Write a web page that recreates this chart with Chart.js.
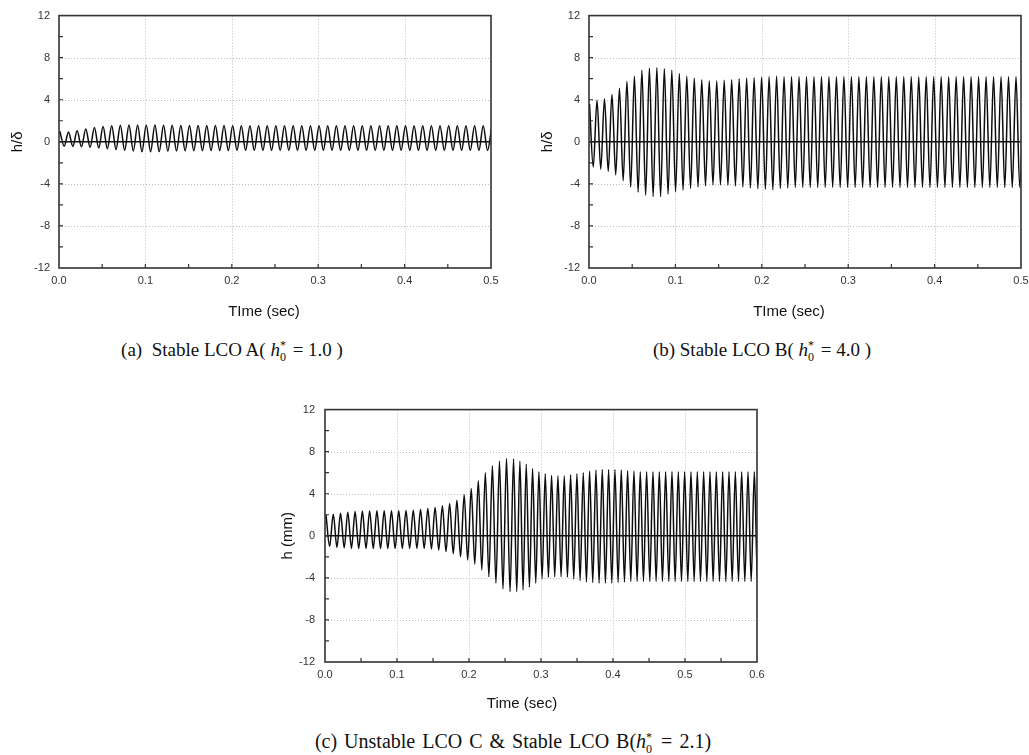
<!DOCTYPE html>
<html><head><meta charset="utf-8">
<script src="https://cdn.jsdelivr.net/npm/chart.js@4.4.1/dist/chart.umd.min.js"></script>
<style>
html,body{margin:0;padding:0;background:#fff;width:1029px;height:755px;overflow:hidden;position:relative}
canvas{position:absolute}
.cap{position:absolute;width:500px;text-align:center;font-family:"Liberation Serif","Times New Roman",serif;font-size:19px;line-height:22px;color:#111;white-space:nowrap}
.capc{font-size:20px;word-spacing:2px}
.h{font-style:italic}
.ss{display:inline-block;position:relative;width:8px;height:11px}
.ss .up{position:absolute;left:0;top:-6px;font-size:12px;line-height:12px}
.ss .dn{position:absolute;left:0;top:6px;font-size:12px;line-height:12px}
</style></head>
<body>
<canvas id="ca" style="left:0;top:0"></canvas>
<canvas id="cb" style="left:530px;top:0"></canvas>
<canvas id="cc" style="left:266px;top:393px"></canvas>
<div class="cap" style="left:-18px;top:339px">(a)&nbsp; Stable LCO A( <span class="h">h</span><span class="ss"><span class="up">*</span><span class="dn">0</span></span> = 1.0 )</div>
<div class="cap" style="left:512px;top:339px">(b) Stable LCO B( <span class="h">h</span><span class="ss"><span class="up">*</span><span class="dn">0</span></span> = 4.0 )</div>
<div class="cap capc" style="left:263px;top:730px">(c) Unstable LCO C &amp; Stable LCO B(<span class="h">h</span><span class="ss"><span class="up">*</span><span class="dn">0</span></span> = 2.1)</div>
<script>
// ---------- data ----------
const yTicks = [-12, -8, -4, 0, 4, 8, 12];
const xTicksAB = [0, 0.1, 0.2, 0.3, 0.4, 0.5];
const xTicksC = [0, 0.1, 0.2, 0.3, 0.4, 0.5, 0.6];

// (a) peaks / troughs of each cycle, h/delta
const aStart = 0.001, aPeriod = 0.01;
const aPeaks = [1.0, 0.93, 1.05, 1.22, 1.35, 1.45, 1.53, 1.58, 1.6, 1.6,
  1.6, 1.59, 1.58, 1.57, 1.56, 1.55, 1.55, 1.54, 1.54, 1.54,
  1.53, 1.53, 1.53, 1.53, 1.53, 1.53, 1.53, 1.53, 1.53, 1.53,
  1.53, 1.53, 1.53, 1.53, 1.53, 1.53, 1.53, 1.53, 1.53, 1.53,
  1.53, 1.53, 1.53, 1.53, 1.53, 1.53, 1.53, 1.53, 1.53, 1.53, 1.53];
const aTroughs = [-0.42, -0.44, -0.48, -0.53, -0.6, -0.67, -0.74, -0.82, -0.88, -0.94,
  -0.95, -0.93, -0.9, -0.88, -0.86, -0.85, -0.84, -0.83, -0.83, -0.83,
  -0.82, -0.82, -0.82, -0.82, -0.82, -0.82, -0.82, -0.82, -0.82, -0.82,
  -0.82, -0.82, -0.82, -0.82, -0.82, -0.82, -0.82, -0.82, -0.82, -0.82,
  -0.82, -0.82, -0.82, -0.82, -0.82, -0.82, -0.82, -0.82, -0.82, -0.82];

// (b)
const bStart = 0.0006, bPeriod = 0.00866;
const bPeaks = [3.6, 3.95, 4.1, 4.5, 5.1, 5.75, 6.25, 6.8, 7.0, 7.05,
  6.95, 6.8, 6.5, 6.25, 6.05, 5.9, 5.8, 5.8, 5.85, 5.9,
  6.0, 6.05, 6.1, 6.15, 6.2, 6.25, 6.2, 6.2, 6.2, 6.2,
  6.2, 6.2, 6.2, 6.2, 6.2, 6.2, 6.2, 6.2, 6.2, 6.2,
  6.2, 6.2, 6.2, 6.2, 6.2, 6.2, 6.2, 6.2, 6.2, 6.2,
  6.2, 6.2, 6.2, 6.2, 6.2, 6.2, 6.2, 6.2, 6.2];
const bTroughs = [-2.4, -2.6, -2.8, -3.15, -3.7, -4.3, -4.8, -5.07, -5.2, -5.2,
  -4.97, -4.75, -4.6, -4.45, -4.3, -4.2, -4.1, -4.1, -4.15, -4.2,
  -4.3, -4.4, -4.45, -4.5, -4.55, -4.45, -4.4, -4.35, -4.35, -4.35,
  -4.35, -4.35, -4.35, -4.35, -4.35, -4.35, -4.35, -4.35, -4.35, -4.35,
  -4.35, -4.35, -4.35, -4.35, -4.35, -4.35, -4.35, -4.35, -4.35, -4.35,
  -4.35, -4.35, -4.35, -4.35, -4.35, -4.35, -4.35, -4.35];

// (c) h (mm); period changes from ~0.0101 s to ~0.0088 s
const cStart = 0.0014;
const cPeriods = [0.0101, 0.0098, 0.0088];
const cBreaks = [19, 26];
const cPeaks = [2.0, 2.05, 2.15, 2.25, 2.3, 2.35, 2.37, 2.38, 2.38, 2.38,
  2.38, 2.4, 2.44, 2.5, 2.6, 2.7, 2.85, 3.06, 3.37, 3.9,
  4.5, 5.25, 6.0, 6.66, 7.1, 7.34, 7.3, 7.1, 6.8, 6.4,
  6.1, 5.9, 5.75, 5.7, 5.7, 5.8, 5.9, 6.0, 6.15, 6.25,
  6.3, 6.3, 6.3, 6.25, 6.2, 6.15, 6.1, 6.1, 6.1, 6.1,
  6.1, 6.1, 6.1, 6.1, 6.1, 6.1, 6.1, 6.1, 6.1, 6.1,
  6.1, 6.1, 6.1, 6.1, 6.1, 6.1];
const cTroughs = [-1.0, -1.1, -1.15, -1.2, -1.2, -1.2, -1.2, -1.2, -1.2, -1.2,
  -1.2, -1.2, -1.2, -1.2, -1.25, -1.35, -1.5, -1.7, -2.0, -2.3,
  -2.7, -3.25, -3.9, -4.5, -5.05, -5.3, -5.3, -5.15, -4.9, -4.5,
  -4.1, -3.95, -3.9, -3.9, -3.95, -4.1, -4.25, -4.4, -4.45, -4.5,
  -4.5, -4.5, -4.45, -4.4, -4.35, -4.35, -4.35, -4.35, -4.35, -4.35,
  -4.35, -4.35, -4.35, -4.35, -4.35, -4.35, -4.35, -4.35, -4.35, -4.35,
  -4.35, -4.35, -4.35, -4.35, -4.35];

// ---------- build point lists ----------
function timesUniform(n, start, period) {
  const t = [];
  for (let i = 0; i < n; i++) t.push(start + i * period);
  return t;
}
function timesPiecewise(n, start, periods, breaks) {
  const t = [start];
  for (let i = 1; i < n; i++) {
    const seg = i <= breaks[0] ? 0 : (i <= breaks[1] ? 1 : 2);
    t.push(t[i - 1] + periods[seg]);
  }
  return t;
}
function series(peaks, troughs, times) {
  const pts = [];
  for (let i = 0; i < peaks.length; i++) {
    pts.push({x: times[i], y: peaks[i]});
    if (i < troughs.length && i + 1 < peaks.length) {
      pts.push({x: (times[i] + times[i + 1]) / 2, y: troughs[i]});
    }
  }
  return pts;
}

const FONT = '"Liberation Sans", Arial, sans-serif';

const framePlugin = {
  id: 'frame',
  beforeDatasetsDraw(chart, args, o) {
    const {ctx, chartArea: a, scales: {x, y}} = chart;
    ctx.save();
    ctx.strokeStyle = '#bcbcbc';
    ctx.lineWidth = 1;
    ctx.setLineDash([1, 2]);
    ctx.beginPath();
    o.xTicks.slice(1, -1).forEach(v => {
      const p = Math.round(x.getPixelForValue(v)) + 0.5;
      ctx.moveTo(p, a.top); ctx.lineTo(p, a.bottom);
    });
    o.yTicks.slice(1, -1).forEach(v => {
      if (v === 0) return;
      const p = Math.round(y.getPixelForValue(v)) + 0.5;
      ctx.moveTo(a.left, p); ctx.lineTo(a.right, p);
    });
    ctx.stroke();
    ctx.restore();
  },
  afterDatasetsDraw(chart, args, o) {
    const {ctx, chartArea: a, scales: {x, y}} = chart;
    ctx.save();
    ctx.strokeStyle = '#111';
    ctx.lineWidth = 1.4;
    const z = y.getPixelForValue(0);
    ctx.beginPath(); ctx.moveTo(a.left, z); ctx.lineTo(a.right, z); ctx.stroke();
    ctx.strokeStyle = '#333';
    ctx.lineWidth = 1.6;
    ctx.strokeRect(a.left, a.top, a.right - a.left, a.bottom - a.top);
    ctx.lineWidth = 1.2;
    ctx.beginPath();
    const xmax = o.xTicks[o.xTicks.length - 1];
    for (let k = 1; k * 0.05 < xmax - 1e-9; k++) {
      const p = x.getPixelForValue(k * 0.05);
      ctx.moveTo(p, a.bottom); ctx.lineTo(p, a.bottom - 4);
    }
    for (let v = -10; v <= 10; v += 2) {
      const p = y.getPixelForValue(v);
      ctx.moveTo(a.left, p); ctx.lineTo(a.left + 4, p);
    }
    ctx.stroke();
    ctx.fillStyle = '#111';
    ctx.font = '15px ' + FONT;
    ctx.textAlign = 'center';
    ctx.textBaseline = 'middle';
    ctx.fillText(o.xTitle, o.xTitleX, o.xTitleY);
    ctx.restore();
  }
};

function makeChart(id, w, h, xTicks, pts, yTitle, yTitlePad, yLabelPad, xTitle, xTitleX, xTitleY, xAxisH) {
  const cv = document.getElementById(id);
  cv.width = w; cv.height = h;
  cv.style.width = w + 'px'; cv.style.height = h + 'px';
  const xmax = xTicks[xTicks.length - 1];
  return new Chart(cv, {
    type: 'line',
    data: {datasets: [{
      data: pts,
      borderColor: '#0d0d0d',
      borderWidth: 1.5,
      pointRadius: 0,
      fill: false,
      cubicInterpolationMode: 'monotone'
    }]},
    options: {
      responsive: false,
      animation: false,
      events: [],
      layout: {padding: {left: 0, right: 19, top: 13, bottom: 0}},
      plugins: {
        legend: {display: false},
        tooltip: {enabled: false},
        frame: {xTicks, yTicks, xTitle, xTitleX, xTitleY}
      },
      scales: {
        x: {
          type: 'linear', min: 0, max: xmax,
          afterBuildTicks: s => { s.ticks = xTicks.map(v => ({value: v})); },
          afterFit: s => { s.height = xAxisH; },
          grid: {display: false, drawTicks: false},
          border: {display: false},
          ticks: {
            padding: 6, color: '#333', font: {family: FONT, size: 11},
            maxRotation: 0, autoSkip: false,
            callback: v => Number(v).toFixed(1)
          }
        },
        y: {
          min: -12, max: 12,
          afterBuildTicks: s => { s.ticks = yTicks.map(v => ({value: v})); },
          afterFit: s => { s.width = 59; },
          grid: {display: false, drawTicks: false},
          border: {display: false},
          ticks: {padding: yLabelPad, color: '#333', font: {family: FONT, size: 11}},
          title: {display: true, text: yTitle, color: '#111',
                  font: {family: FONT, size: 15}, padding: {top: yTitlePad, bottom: 0}}
        }
      }
    },
    plugins: [framePlugin]
  });
}

const aPts = series(aPeaks, aTroughs, timesUniform(aPeaks.length, aStart, aPeriod));
const bPts = series(bPeaks, bTroughs, timesUniform(bPeaks.length, bStart, bPeriod));
const cPts = series(cPeaks, cTroughs, timesPiecewise(cPeaks.length, cStart, cPeriods, cBreaks));

makeChart('ca', 510, 330, xTicksAB, aPts, 'h/\u03b4', 9, 9, 'TIme (sec)', 264, 312, 62);
makeChart('cb', 510, 330, xTicksAB, bPts, 'h/\u03b4', 9, 9, 'TIme (sec)', 259, 312, 62);
makeChart('cc', 510, 330, xTicksC, cPts, 'h (mm)', 13, 10, 'Time (sec)', 256, 311, 61);
</script>
</body></html>
